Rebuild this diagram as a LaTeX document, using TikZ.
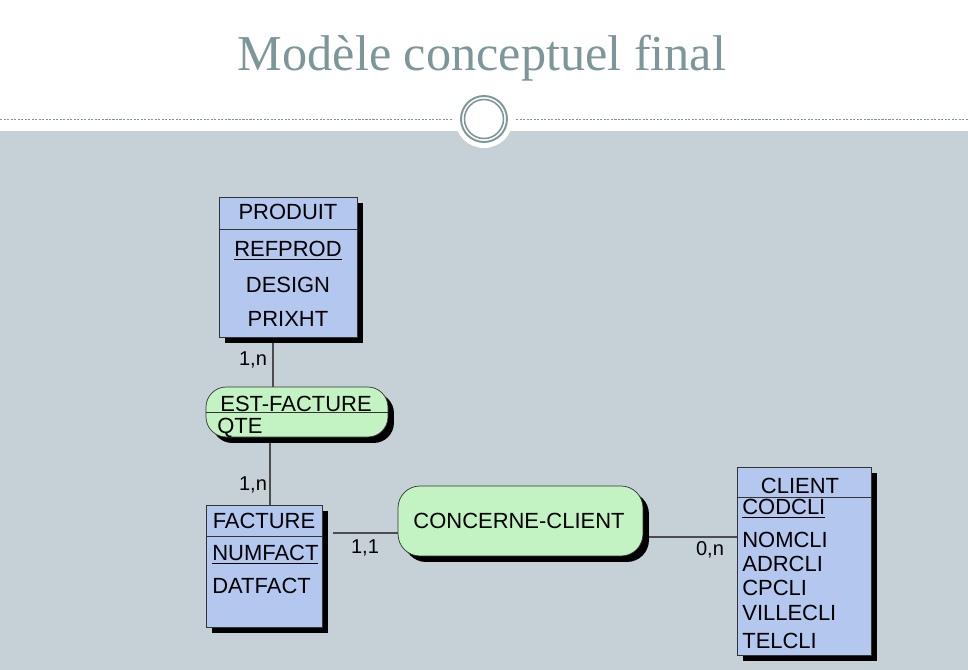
\documentclass[tikz,border=0pt]{standalone}
\usepackage{fontspec}
\setmainfont{Liberation Sans}
\newfontfamily\titlefont{Liberation Serif}
\usetikzlibrary{positioning,shadows,calc}

\definecolor{slidegray}{HTML}{C5D1D7}
\definecolor{titlegray}{HTML}{7D9699}
\definecolor{entblue}{HTML}{B3C7EF}
\definecolor{relgreen}{HTML}{C3F3C3}

\tikzset{
  entity/.style={draw=black!80, fill=entblue, rectangle, inner sep=0pt,
    general shadow={fill=black, shadow xshift=3.4pt, shadow yshift=-3.4pt}},
  relation/.style={draw=black!80, fill=relgreen, rectangle, rounded corners=11.5pt,
    inner sep=0pt,
    general shadow={fill=black, shadow xshift=3.4pt, shadow yshift=-3.4pt}},
  attr/.style={font=\fontsize{12.5}{14}\selectfont, inner sep=0pt},
  card/.style={font=\fontsize{11.4}{13}\selectfont, inner sep=0pt},
  link/.style={draw=black!70, line width=0.6pt},
}

\begin{document}
\begin{tikzpicture}[x=0.02cm, y=-0.02cm]
    \useasboundingbox (0,0) rectangle (968,670);

    % slide background
    \fill[white] (0,0) rectangle (968,131);
    \fill[slidegray] (0,131) rectangle (968,670);
    \draw[titlegray, line width=0.5pt, dash pattern=on 1.2pt off 0.8pt] (0,119) -- (452,119);
    \draw[titlegray, line width=0.5pt, dash pattern=on 1.2pt off 0.8pt] (516,119) -- (968,119);
    \fill[white] (484,119) circle (29);
    \draw[titlegray, line width=1.1pt] (484,119) circle (23);
    \draw[titlegray, line width=0.9pt] (484,119) circle (19.5);
    \node[text=titlegray, font=\titlefont\fontsize{28.6}{32}\selectfont] (title) at (482,58)
        {Modèle conceptuel final};

    % connectors
    \coordinate (pline) at (273,0);
    \coordinate (fline) at (270,0);

    % PRODUIT
    \node[entity, minimum width=2.76cm, minimum height=2.8cm] (produit) at (288,267) {};
    \draw[black!80, line width=0.5pt] (produit.west |- 0,229) -- (produit.east |- 0,229);
    \node[attr] (produitname) at (288,212) {PRODUIT};
    \node[attr] (refprod) at (288,251) {\underline{REFPROD}};
    \node[attr] (design) at (288,285) {DESIGN};
    \node[attr] (prixht) at (288,319) {PRIXHT};

    % EST-FACTURE
    \node[relation, minimum width=3.64cm, minimum height=1.0cm] (estfact) at (297,412) {};
    \draw[black!80, line width=0.5pt] (estfact.west) -- (estfact.east);
    \node[attr, anchor=west] (estfactname) at (220,404) {EST-FACTURE};
    \node[attr, anchor=west] (qte) at (217,428) {QTE};

    % FACTURE
    \node[entity, minimum width=2.32cm, minimum height=2.44cm] (facture) at (264,566) {};
    \draw[black!80, line width=0.5pt] (facture.west |- 0,536) -- (facture.east |- 0,536);
    \node[attr] (facturename) at (264,521) {FACTURE};
    \node[attr, anchor=west] (numfact) at (212,555) {\underline{NUMFACT}};
    \node[attr, anchor=west] (datfact) at (212,586) {DATFACT};

    % CONCERNE-CLIENT
    \node[relation, minimum width=4.9cm, minimum height=1.4cm, rounded corners=12.5pt]
        (concerne) at (520.5,521) {};
    \node[attr] (concernename) at (519,521) {CONCERNE-CLIENT};

    % CLIENT
    \node[entity, minimum width=2.68cm, minimum height=3.76cm] (client) at (804,561) {};
    \draw[black!80, line width=0.5pt] (client.west |- 0,497) -- (client.east |- 0,497);
    \node[attr] (clientname) at (800,486) {CLIENT};
    \node[attr, anchor=west] (codcli) at (742,509) {\underline{CODCLI}};
    \node[attr, anchor=west] (nomcli) at (742,540) {NOMCLI};
    \node[attr, anchor=west] (adrcli) at (742,564) {ADRCLI};
    \node[attr, anchor=west] (cpcli) at (742,588) {CPCLI};
    \node[attr, anchor=west] (villecli) at (742,613) {VILLECLI};
    \node[attr, anchor=west] (telcli) at (742,641) {TELCLI};

    % links
    \draw[link] (produit.south -| pline) ++(0,6) -- (estfact.north -| pline);
    \draw[link] (estfact.south -| fline) ++(0,6) -- (facture.north -| fline);
    \draw[link] ($(facture.east |- 0,533)+(11,0)$) -- (concerne.west |- 0,533);
    \draw[link] (concerne.east |- 0,537) ++(6,0) -- (client.west |- 0,537);

    % cardinalities
    \node[card] (card1) at (253,360) {1,n};
    \node[card] (card2) at (253,485) {1,n};
    \node[card] (card3) at (365,548) {1,1};
    \node[card] (card4) at (710,550) {0,n};

\end{tikzpicture}
\end{document}
